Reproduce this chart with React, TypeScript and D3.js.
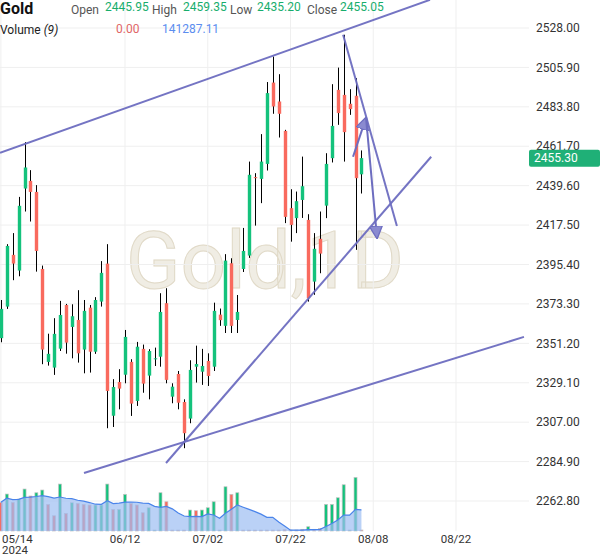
import { useEffect, useRef } from 'react';
import * as d3 from 'd3';

// daily candles, 05/14 .. 08/06
const opens = [
  2354.1, 2371.8, 2400.8, 2392.0, 2438.0, 2442.3, 2436.1, 2392.9, 2340.8, 2337.6,
  2348.2, 2372.7, 2360.4, 2364.3, 2347.7, 2371.2, 2346.5, 2374.6, 2395.9, 2310.6,
  2329.5, 2333.6, 2340.8, 2318.9, 2348.1, 2333.1, 2342.4, 2343.7, 2373.7, 2321.3,
  2334.0, 2318.3, 2309.0, 2338.1, 2335.3, 2341.3, 2338.1, 2367.3, 2361.0, 2396.1,
  2364.3, 2392.9, 2400.4, 2444.4, 2443.4, 2451.8, 2497.4, 2486.8, 2470.3, 2427.0,
  2421.4, 2431.6, 2420.4, 2385.8, 2409.8, 2428.4, 2455.0, 2493.3, 2490.5, 2485.5,
  2490.0, 2445.95,
];
const highs = [
  2375.5, 2406.8, 2413.0, 2433.3, 2464.0, 2448.3, 2439.9, 2394.8, 2356.6, 2365.3,
  2375.0, 2373.3, 2373.1, 2381.0, 2375.5, 2372.7, 2377.1, 2397.3, 2406.8, 2331.1,
  2336.7, 2358.7, 2342.3, 2352.0, 2350.5, 2347.9, 2348.8, 2379.3, 2382.1, 2328.8,
  2335.7, 2319.8, 2341.7, 2349.9, 2348.1, 2345.6, 2374.0, 2370.7, 2401.2, 2398.9,
  2378.3, 2415.9, 2453.1, 2446.6, 2468.5, 2497.7, 2512.0, 2502.1, 2470.9, 2437.6,
  2436.3, 2455.9, 2423.6, 2413.0, 2425.1, 2457.8, 2496.5, 2505.8, 2524.2, 2493.7,
  2499.9, 2459.35,
];
const lows = [
  2351.8, 2370.5, 2386.6, 2388.8, 2425.1, 2419.5, 2391.4, 2339.5, 2338.7, 2333.5,
  2346.9, 2345.4, 2342.8, 2340.4, 2334.4, 2334.8, 2345.3, 2371.8, 2303.6, 2304.3,
  2314.2, 2328.8, 2310.5, 2316.1, 2323.5, 2319.8, 2338.5, 2338.1, 2328.8, 2317.6,
  2314.2, 2292.4, 2306.4, 2329.2, 2327.9, 2327.3, 2335.7, 2361.0, 2357.0, 2357.0,
  2357.0, 2391.2, 2399.1, 2417.2, 2429.8, 2448.1, 2479.9, 2466.6, 2418.6, 2408.2,
  2413.0, 2421.5, 2374.6, 2378.4, 2390.5, 2421.4, 2452.6, 2473.7, 2453.1, 2479.3,
  2403.6, 2435.2,
];
const closes = [
  2370.5, 2405.8, 2395.9, 2428.3, 2449.8, 2436.1, 2403.0, 2347.7, 2345.3, 2356.5,
  2367.1, 2351.6, 2366.4, 2345.6, 2369.4, 2346.5, 2375.5, 2390.7, 2324.5, 2326.7,
  2325.8, 2354.8, 2317.4, 2349.3, 2328.6, 2346.9, 2342.8, 2368.8, 2330.7, 2326.9,
  2317.9, 2300.8, 2336.3, 2339.6, 2338.5, 2332.9, 2369.4, 2364.2, 2397.6, 2361.0,
  2368.8, 2403.0, 2445.7, 2443.8, 2453.1, 2491.5, 2484.0, 2479.9, 2422.1, 2417.6,
  2430.9, 2439.3, 2376.5, 2404.2, 2401.5, 2451.8, 2473.1, 2480.3, 2469.6, 2482.5,
  2443.8, 2455.05,
];
const volumes = [
  186900, 240900, 186900, 208400, 273500, 227900, 249400, 267000, 173800, 99600,
  306000, 115200, 184300, 180400, 173800, 169300, 169300, 169300, 306000, 141300,
  141300, 239000, 180400, 169300, 119200, 151700, 0, 249400, 190800, 0,
  0, 0, 136700, 132200, 136700, 151700, 190800, 0, 288400, 239000,
  249400, 5000, 5000, 5000, 5000, 5000, 5000, 5000, 11000, 5000,
  5000, 11000, 28000, 11000, 16300, 173800, 173800, 216800, 301500, 0,
  349600, 0,
];
const volDir = [
  'd', 'u', 'd', 'u', 'u', 'd', 'u', 'u', 'd', 'd',
  'u', 'd', 'u', 'd', 'd', 'd', 'u', 'u', 'u', 'd',
  'u', 'u', 'd', 'd', 'd', 'u', 'u', 'u', 'd', 'd',
  'd', 'd', 'u', 'd', 'u', 'u', 'u', 'u', 'u', 'd',
  'u', 'd', 'd', 'd', 'd', 'd', 'd', 'd', 'd', 'd',
  'd', 'd', 'u', 'd', 'd', 'u', 'u', 'u', 'u', 'u',
  'u', 'd',
];

const xTickIdx = [0, 21, 35, 49, 63, 77];
const xTickLabels = ['05/14', '06/12', '07/02', '07/22', '08/08', '08/22'];
const yTicks = [2262.8, 2284.9, 2307.0, 2329.1, 2351.2, 2373.3, 2395.4, 2417.5, 2439.6, 2461.7, 2483.8, 2505.9, 2528.0];

// drawings, as [bar index, price]
const upperChannel = [[-0.15, 2458.0], [72.6, 2543.8]];
const lowerChannel = [[14.06, 2278.5], [88.5, 2354.8]];
const risingLine = [[27.94, 2284.1], [72.8, 2455.8]];
const fallingLine = [[57.9, 2524.2], [67.0, 2417.0]];
const arrowPath = [[59.58, 2455.8], [61.78, 2477.6], [63.64, 2410.3]];

const lastPrice = 2455.3;

const GREEN = '#14c27c';
const RED = '#f96a5e';
const LINE = '#6d6dc0';

export default function App() {
  const ref = useRef<SVGSVGElement>(null);

  useEffect(() => {
    document.body.style.margin = '0';
    if (!ref.current) return;
    const svg = d3.select(ref.current);
    svg.selectAll('*').remove();

    const width = 600;
    const height = 558;
    const plotR = 529;
    const plotB = 531;

    svg.attr('width', width).attr('height', height)
      .style('font-family', 'Roboto, sans-serif')
      .style('background', '#fff');

    const x = d3.scaleLinear().domain([0, 77]).range([0.9, 456]);
    const y = d3.scaleLinear().domain([2262.8, 2528]).range([501, 28]);
    const yv = d3.scaleLinear().domain([0, 350000]).range([plotB, 477.3]);

    const defs = svg.append('defs');
    defs.append('clipPath').attr('id', 'plot')
      .append('rect').attr('x', 0).attr('y', 0).attr('width', plotR).attr('height', plotB);
    defs.append('marker')
      .attr('id', 'head')
      .attr('viewBox', '0 0 12 12')
      .attr('refX', 11).attr('refY', 6)
      .attr('markerWidth', 13).attr('markerHeight', 13)
      .attr('markerUnits', 'userSpaceOnUse')
      .attr('orient', 'auto')
      .append('path')
      .attr('d', 'M0,0 L12,6 L0,12 Z')
      .attr('fill', '#8a8ad0')
      .attr('stroke', LINE)
      .attr('stroke-width', 1.2);

    // watermark
    svg.append('text')
      .attr('x', 265).attr('y', 288)
      .attr('text-anchor', 'middle')
      .attr('font-size', 80)
      .attr('fill', '#f0ede4')
      .attr('stroke', '#e0d9c7')
      .attr('stroke-width', 1)
      .text('Gold,1D');

    // grid
    svg.append('g').selectAll('line').data(yTicks).join('line')
      .attr('x1', 0).attr('x2', plotR)
      .attr('y1', d => y(d)).attr('y2', d => y(d))
      .attr('stroke', '#efefef');
    svg.append('g').selectAll('line').data(xTickIdx).join('line')
      .attr('x1', d => x(d)).attr('x2', d => x(d))
      .attr('y1', 0).attr('y2', plotB)
      .attr('stroke', '#efefef');

    // volume
    const idx = d3.range(closes.length);
    svg.append('g').selectAll('rect').data(idx).join('rect')
      .attr('x', i => x(i) - 1.5)
      .attr('width', 3)
      .attr('y', i => Math.min(yv(volumes[i]), plotB - 1))
      .attr('height', i => Math.max(plotB - yv(volumes[i]), 1))
      .attr('fill', i => (volDir[i] === 'u' ? GREEN : RED))
      .attr('stroke', '#c4c4c4')
      .attr('stroke-width', 0.7);

    const ma = idx.map(i => d3.mean(volumes.slice(Math.max(0, i - 8), i + 1)) as number);
    const area = d3.area<number>()
      .x(i => x(i))
      .y0(plotB)
      .y1(i => yv(ma[i]));
    svg.append('path')
      .attr('d', area(idx) as string)
      .attr('fill', '#9dbdf2')
      .attr('fill-opacity', 0.7);
    const maLine = d3.line<number>().x(i => x(i)).y(i => yv(ma[i]));
    svg.append('path')
      .attr('d', maLine(idx) as string)
      .attr('fill', 'none')
      .attr('stroke', '#4a84ea')
      .attr('stroke-width', 1.2);

    // candles
    const candles = svg.append('g');
    candles.selectAll('line').data(idx).join('line')
      .attr('x1', i => Math.round(x(i)) + 0.5).attr('x2', i => Math.round(x(i)) + 0.5)
      .attr('y1', i => y(highs[i])).attr('y2', i => y(lows[i]))
      .attr('stroke', '#000').attr('stroke-width', 1);
    candles.selectAll('rect').data(idx).join('rect')
      .attr('x', i => Math.round(x(i)) - 1.2)
      .attr('width', 3.4)
      .attr('y', i => y(Math.max(opens[i], closes[i])))
      .attr('height', i => Math.max(Math.abs(y(opens[i]) - y(closes[i])), 1))
      .attr('fill', i => (closes[i] >= opens[i] ? GREEN : RED));

    // drawings
    const draw = svg.append('g').attr('clip-path', 'url(#plot)');
    const seg = d3.line<number[]>().x(d => x(d[0])).y(d => y(d[1]));
    [upperChannel, lowerChannel, risingLine, fallingLine].forEach(pts => {
      draw.append('path')
        .attr('d', seg(pts) as string)
        .attr('fill', 'none')
        .attr('stroke', LINE)
        .attr('stroke-width', 2)
        .attr('stroke-opacity', 0.95);
    });
    for (let k = 0; k < arrowPath.length - 1; k++) {
      svg.append('path')
        .attr('d', seg([arrowPath[k], arrowPath[k + 1]]) as string)
        .attr('fill', 'none')
        .attr('stroke', LINE)
        .attr('stroke-width', 2)
        .attr('marker-end', 'url(#head)');
    }

    // right axis
    svg.append('g').selectAll('text').data(yTicks).join('text')
      .attr('x', 536).attr('y', d => y(d))
      .attr('dy', '0.35em')
      .attr('font-size', 12)
      .attr('fill', '#333')
      .text(d => d.toFixed(2));

    const py = y(lastPrice);
    svg.append('rect')
      .attr('x', 529).attr('y', py - 8)
      .attr('width', 71).attr('height', 17)
      .attr('rx', 2)
      .attr('fill', '#1fb077');
    svg.append('text')
      .attr('x', 534).attr('y', py + 0.5)
      .attr('dy', '0.35em')
      .attr('font-size', 12)
      .attr('fill', '#fff')
      .text(lastPrice.toFixed(2));

    // bottom axis
    svg.append('g').selectAll('text').data(xTickIdx).join('text')
      .attr('x', (d, i) => (i === 0 ? 2 : x(d)))
      .attr('y', 542.5)
      .attr('text-anchor', (d, i) => (i === 0 ? 'start' : 'middle'))
      .attr('font-size', 11.5)
      .attr('fill', '#333')
      .text((d, i) => xTickLabels[i]);
    svg.append('text')
      .attr('x', 2).attr('y', 554)
      .attr('font-size', 11.5)
      .attr('fill', '#333')
      .text('2024');

    // legend
    const head = svg.append('g');
    head.append('text').attr('x', 0).attr('y', 14)
      .attr('font-size', 16).attr('font-weight', 700).attr('fill', '#111').text('Gold');
    const fields = [
      ['Open', 71, 2445.95, 105],
      ['High', 152, 2459.35, 183],
      ['Low', 230, 2435.2, 257],
      ['Close', 307, 2455.05, 340],
    ] as [string, number, number, number][];
    fields.forEach(([label, lx, v, vx]) => {
      head.append('text').attr('x', lx).attr('y', 14)
        .attr('font-size', 12).attr('fill', '#555').text(label);
      head.append('text').attr('x', vx).attr('y', 11)
        .attr('font-size', 12).attr('fill', '#17ad6c').text(v.toFixed(2));
    });
    const vol = head.append('text').attr('x', 0).attr('y', 34)
      .attr('font-size', 12).attr('fill', '#222');
    vol.append('tspan').text('Volume ');
    vol.append('tspan').attr('font-style', 'italic').text('(9)');
    head.append('text').attr('x', 116).attr('y', 33)
      .attr('font-size', 12).attr('fill', '#e06666').text(volumes[volumes.length - 1].toFixed(2));
    head.append('text').attr('x', 162).attr('y', 33)
      .attr('font-size', 12).attr('fill', '#5b8def').text('141287.11');
  }, []);

  return <svg ref={ref} style={{ display: 'block' }} />;
}
